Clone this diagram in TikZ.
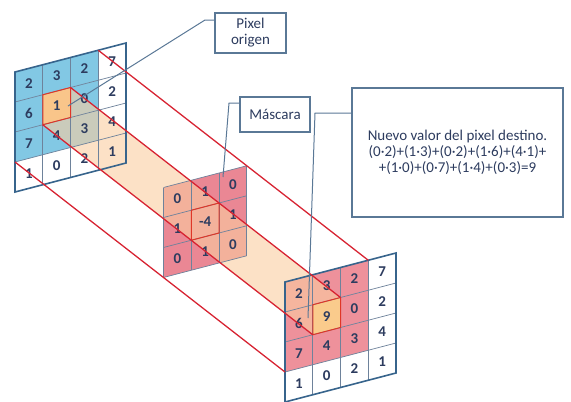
\documentclass[tikz,border=0pt]{standalone}
\usepackage{fontspec}
\setmainfont{Carlito}
\definecolor{cblue}{RGB}{130,200,228}
\definecolor{corange}{RGB}{248,185,105}
\definecolor{cpink}{RGB}{238,145,155}
\definecolor{cmask}{RGB}{234,135,148}
\definecolor{cdpix}{RGB}{250,200,110}
\definecolor{cbeam}{RGB}{250,205,160}
\definecolor{cgrid}{RGB}{110,130,155}
\definecolor{cborder}{RGB}{55,100,140}
\definecolor{cred}{RGB}{215,35,50}
\definecolor{ctext}{RGB}{45,60,95}
\definecolor{cline}{RGB}{90,120,150}
\newcommand\cellfill[3]{\fill[#3] (#1,#2) -- ++(1,0) -- ++(0,1) -- ++(-1,0) -- cycle;}
\tikzset{
  gridline/.style={draw=cgrid, line width=0.7pt},
  gridborder/.style={draw=cborder, line width=1.6pt, line join=miter},
  redline/.style={draw=cred, line width=1.3pt},
  num/.style={text=ctext, font=\fontsize{15}{15}\selectfont\bfseries, inner sep=0pt},
  callout/.style={draw=cline, line width=1.2pt, fill=white, align=center, text=ctext, font=\fontsize{15}{16}\selectfont, inner sep=0pt},
  cline/.style={draw=cline, line width=1pt},
  beam/.style={fill=cbeam, fill opacity=0.6},
  pixout/.style={draw=cred!80!orange, line width=1pt}
}
\begin{document}
\begin{tikzpicture}[x=1pt,y=-1pt]
\useasboundingbox (0,0) rectangle (571,402);
% ---------- destination grid fills
\begin{scope}[shift={(285pt,-282pt)},x={(27.75pt,7.25pt)},y={(0pt,-30pt)}]
  \fill[white] (0,0) -- (4,0) -- (4,4) -- (0,4) -- cycle;
  \foreach \c/\r in {0/0,1/0,2/0,0/1,2/1,0/2,1/2,2/2} {\cellfill{\c}{\r}{cpink}}
  \cellfill{1}{1}{cdpix}
  \coordinate (d3TR) at (3,0); \coordinate (d3BL) at (0,3);
  \coordinate (dpTL) at (1,1); \coordinate (dpTR) at (2,1);
  \coordinate (dpBR) at (2,2); \coordinate (dpBL) at (1,2);
\end{scope}
% ---------- mask fills
\begin{scope}[shift={(163.5pt,-187.5pt)},x={(27.75pt,7.25pt)},y={(0pt,-30pt)}]
  \fill[cmask] (0,0) -- (3,0) -- (3,3) -- (0,3) -- cycle;
\end{scope}
% ---------- source grid fills
\begin{scope}[shift={(15pt,-72pt)},x={(27.75pt,7.25pt)},y={(0pt,-30pt)}]
  \fill[white] (0,0) -- (4,0) -- (4,4) -- (0,4) -- cycle;
  \foreach \c/\r in {0/0,1/0,2/0,0/1,2/1,0/2,1/2,2/2} {\cellfill{\c}{\r}{cblue}}
  \cellfill{1}{1}{corange}
  \coordinate (s3TR) at (3,0); \coordinate (s3BL) at (0,3);
  \coordinate (spTL) at (1,1); \coordinate (spTR) at (2,1);
  \coordinate (spBR) at (2,2); \coordinate (spBL) at (1,2);
\end{scope}
% ---------- beam
\fill[beam] (spTR) -- (dpTR) -- (dpBR) -- (dpBL) -- (spBL) -- (spTL) -- cycle;
% ---------- grid lines and numbers
\begin{scope}[shift={(285pt,-282pt)},x={(27.75pt,7.25pt)},y={(0pt,-30pt)}]
  \foreach \k in {1,2,3} {\draw[gridline] (\k,0) -- (\k,4); \draw[gridline] (0,\k) -- (4,\k);}
  \draw[gridborder] (0,0) -- (4,0) -- (4,4) -- (0,4) -- cycle;
  \draw[pixout] (1,1) -- (2,1) -- (2,2) -- (1,2) -- cycle;
  \foreach \v [count=\k from 0] in {2,3,2,7,6,9,0,2,7,4,3,4,1,0,2,1}
    {\pgfmathtruncatemacro\cc{mod(\k,4)}\pgfmathtruncatemacro\rr{div(\k,4)}
     \node[num] (d-\rr-\cc) at (\cc+0.5,\rr+0.5) {\v};}
\end{scope}
\begin{scope}[shift={(163.5pt,-187.5pt)},x={(27.75pt,7.25pt)},y={(0pt,-30pt)}]
  \foreach \k in {0,1,2,3} {\draw[gridline] (\k,0) -- (\k,3); \draw[gridline] (0,\k) -- (3,\k);}
  \draw[pixout] (1,1) -- (2,1) -- (2,2) -- (1,2) -- cycle;
  \foreach \v [count=\k from 0] in {0,1,0,1,-4,1,0,1,0}
    {\pgfmathtruncatemacro\cc{mod(\k,3)}\pgfmathtruncatemacro\rr{div(\k,3)}
     \node[num] (m-\rr-\cc) at (\cc+0.5,\rr+0.5) {\v};}
\end{scope}
\begin{scope}[shift={(15pt,-72pt)},x={(27.75pt,7.25pt)},y={(0pt,-30pt)}]
  \foreach \k in {1,2,3} {\draw[gridline] (\k,0) -- (\k,4); \draw[gridline] (0,\k) -- (4,\k);}
  \draw[gridborder] (0,0) -- (4,0) -- (4,4) -- (0,4) -- cycle;
  \draw[pixout] (1,1) -- (2,1) -- (2,2) -- (1,2) -- cycle;
  \foreach \v [count=\k from 0] in {2,3,2,7,6,1,0,2,7,4,3,4,1,0,2,1}
    {\pgfmathtruncatemacro\cc{mod(\k,4)}\pgfmathtruncatemacro\rr{div(\k,4)}
     \node[num] (s-\rr-\cc) at (\cc+0.5,\rr+0.5) {\v};}
\end{scope}
% ---------- red projection lines
\draw[redline] (s3TR) -- (d3TR);
\draw[redline] (s3BL) -- (d3BL);
\draw[redline] (spTR) -- (dpTR);
\draw[redline] (spBL) -- (dpBL);
% ---------- callouts
\node[callout, minimum width=71pt, minimum height=40pt] (po) at (250.5,33) {Pixel\\origen};
\node[callout, minimum width=70pt, minimum height=35pt] (ma) at (275,114.5) {Máscara};
\node[callout, minimum width=211pt, minimum height=129pt] (nv) at (457.5,152.5)
  {Nuevo valor del pixel destino.\\(0·2)+(1·3)+(0·2)+(1·6)+(4·1)+\\+(1·0)+(0·7)+(1·4)+(0·3)=9};
\coordinate (poA) at (68,106); \coordinate (poK) at (205,20);
\coordinate (maA) at (223,177); \coordinate (maK) at (229,103);
\coordinate (nvA) at (308,318); \coordinate (nvK) at (315,113);
\draw[cline] (poA) -- (poK) -- (po.west |- poK);
\draw[cline] (maA) -- (maK) -- (ma.west |- maK);
\draw[cline] (nvA) -- (nvK) -- (nv.west |- nvK);
\end{tikzpicture}
\end{document}
